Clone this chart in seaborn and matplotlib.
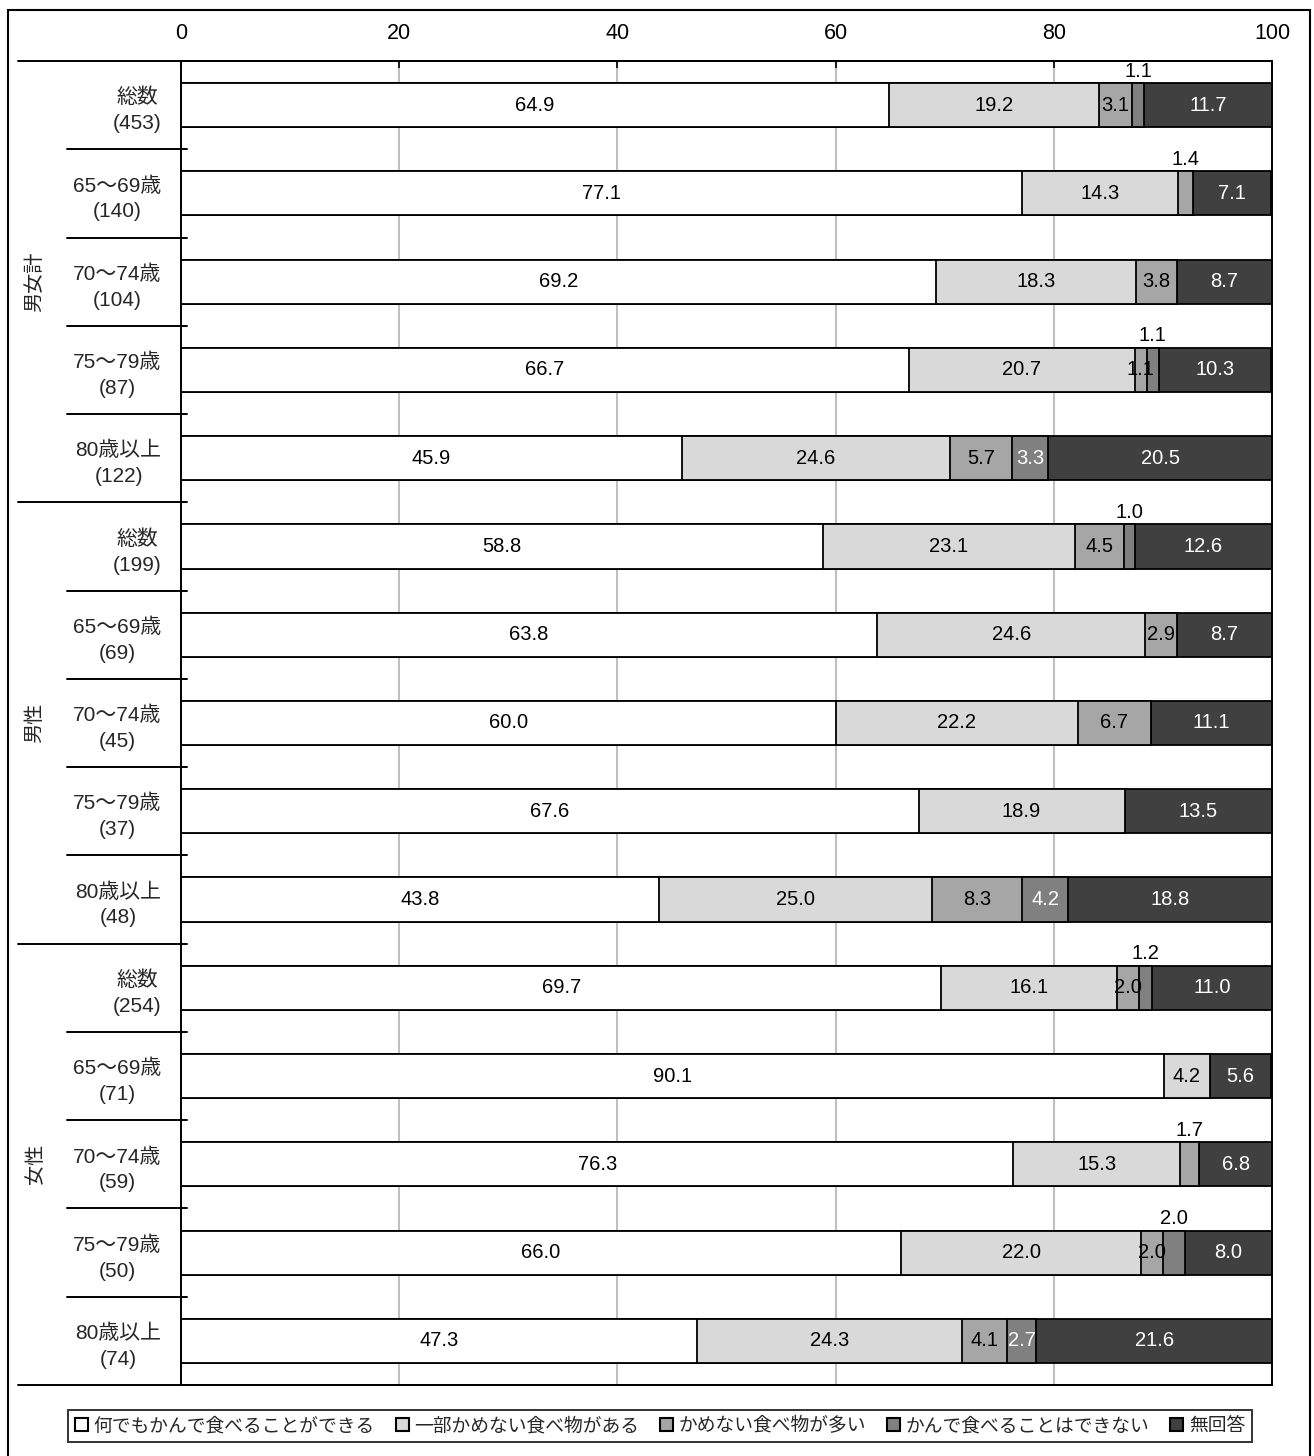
import numpy as np
import pandas as pd
import matplotlib
matplotlib.use("Agg")
import matplotlib.pyplot as plt
import matplotlib.transforms as mtransforms
from matplotlib.patches import Patch, Rectangle
import seaborn as sns

sns.set_theme(style="white")
plt.rcParams["font.family"] = ["Liberation Sans", "Noto Sans CJK JP", "DejaVu Sans"]

# データ
groups = ["男女計", "男性", "女性"]
row_labels = [
    "総数\n(453)", "65〜69歳\n(140)", "70〜74歳\n(104)", "75〜79歳\n(87)", "80歳以上\n(122)",
    "総数\n(199)", "65〜69歳\n(69)", "70〜74歳\n(45)", "75〜79歳\n(37)", "80歳以上\n(48)",
    "総数\n(254)", "65〜69歳\n(71)", "70〜74歳\n(59)", "75〜79歳\n(50)", "80歳以上\n(74)",
]
categories = ["何でもかんで食べることができる", "一部かめない食べ物がある", "かめない食べ物が多い",
              "かんで食べることはできない", "無回答"]
can_eat_all = [64.9, 77.1, 69.2, 66.7, 45.9, 58.8, 63.8, 60.0, 67.6, 43.8, 69.7, 90.1, 76.3, 66.0, 47.3]
some_hard = [19.2, 14.3, 18.3, 20.7, 24.6, 23.1, 24.6, 22.2, 18.9, 25.0, 16.1, 4.2, 15.3, 22.0, 24.3]
many_hard = [3.1, 1.4, 3.8, 1.1, 5.7, 4.5, 2.9, 6.7, 0.0, 8.3, 2.0, 0.0, 1.7, 2.0, 4.1]
cannot_chew = [1.1, 0.0, 0.0, 1.1, 3.3, 1.0, 0.0, 0.0, 0.0, 4.2, 1.2, 0.0, 0.0, 2.0, 2.7]
no_answer = [11.7, 7.1, 8.7, 10.3, 20.5, 12.6, 8.7, 11.1, 13.5, 18.8, 11.0, 5.6, 6.8, 8.0, 21.6]

colors = ["#ffffff", "#d9d9d9", "#a6a6a6", "#808080", "#404040"]
text_colors = ["black", "black", "black", "white", "white"]

vals = np.array([can_eat_all, some_hard, many_hard, cannot_chew, no_answer])
cum = vals.cumsum(axis=0)

W, H = 1314, 1456
fig = plt.figure(figsize=(W / 100, H / 100), dpi=100)
ax = fig.add_axes([181 / W, 1 - 1385 / H, (1272 - 181) / W, (1385 - 61) / H])

# 積み上げ: 累積値を大きい方から重ね描き
for k in range(len(categories) - 1, -1, -1):
    df = pd.DataFrame({"row": row_labels, "value": cum[k]})
    sns.barplot(data=df, x="value", y="row", order=row_labels, orient="h",
                color=colors[k], saturation=1, width=0.5, errorbar=None,
                edgecolor="black", linewidth=1.3, ax=ax)

ax.set_xlim(0, 100)
ax.set_ylim(14.5, -0.5)
ax.set_xlabel("")
ax.set_ylabel("")
ax.xaxis.tick_top()
ax.set_xticks(range(0, 101, 20))
ax.tick_params(axis="x", direction="in", length=5, width=1.2, colors="black",
               labelsize=15.5, pad=12, top=True, bottom=False)
ax.tick_params(axis="y", length=0, pad=14, labelsize=15)
for lab in ax.get_yticklabels():
    lab.set_multialignment("center")
    lab.set_linespacing(1.45)
ax.grid(axis="x", color="#bfbfbf", linewidth=1.5)
ax.set_axisbelow(True)
for side in ["top", "right", "left", "bottom"]:
    ax.spines[side].set_visible(True)
    ax.spines[side].set_color("black")
    ax.spines[side].set_linewidth(1.4)

# 数値ラベル
for i in range(len(row_labels)):
    small = [k for k in range(len(categories)) if 0 < vals[k, i] < 2.5]
    above = small[-1] if small else None
    for k in range(len(categories)):
        v = vals[k, i]
        if v <= 0:
            continue
        xc = cum[k, i] - v / 2
        if k == above:
            ax.text(xc, i - 0.385, f"{v:.1f}", ha="center", va="center",
                    fontsize=14.5, color="black")
        else:
            ax.text(xc, i, f"{v:.1f}", ha="center", va="center",
                    fontsize=14.5, color=text_colors[k])

# 見出し部分の区切り線
trans = mtransforms.blended_transform_factory(ax.transAxes, ax.transData)
x_outer = (18 - 181) / (1272 - 181)
x_inner = (67 - 181) / (1272 - 181)
x_end = (187 - 181) / (1272 - 181)
for b in range(15 + 1):
    y = b - 0.5
    if b in (0, 15):
        ax.plot([x_outer, 1], [y, y], color="black", lw=1.4, transform=trans, clip_on=False)
    elif b % 5 == 0:
        ax.plot([x_outer, x_end], [y, y], color="black", lw=1.4, transform=trans, clip_on=False)
    else:
        ax.plot([x_inner, x_end], [y, y], color="black", lw=1.4, transform=trans, clip_on=False)

x_group = (35 - 181) / (1272 - 181)
for g, name in enumerate(groups):
    ax.text(x_group, g * 5 + 2, name, rotation=90, ha="center", va="center",
            fontsize=14.5, transform=trans)

# 外枠
fig.patches.append(Rectangle((8 / W, -0.01), (1310 - 8) / W, 1.01 - 10 / H,
                             transform=fig.transFigure, fill=False,
                             edgecolor="black", linewidth=1.5))

handles = [Patch(facecolor=c, edgecolor="black", linewidth=1.5) for c in colors]
leg = fig.legend(handles, categories, loc="center", bbox_to_anchor=(660 / W, 1 - 1426 / H),
                 ncol=5, frameon=True, fancybox=False, edgecolor="black", fontsize=13.5,
                 handlelength=0.7, handleheight=0.7, handletextpad=0.3,
                 columnspacing=1.1, borderpad=0.35)
leg.get_frame().set_linewidth(1.4)

fig.savefig("out.png", dpi=100)
